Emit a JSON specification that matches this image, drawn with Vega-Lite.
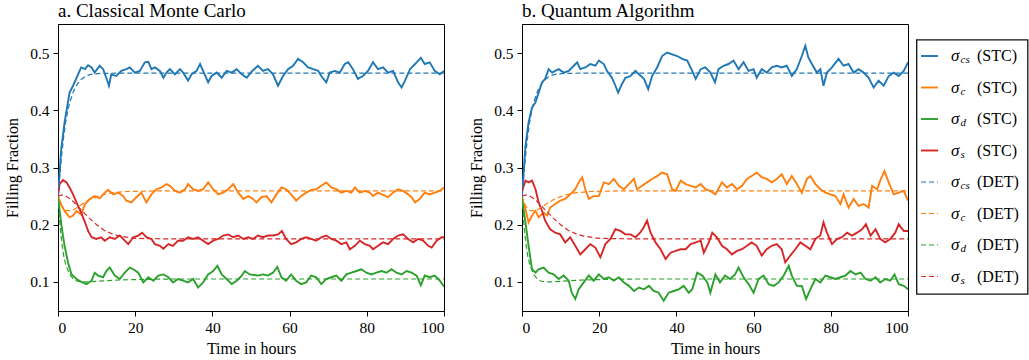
{
"$schema": "https://vega.github.io/schema/vega-lite/v6.json",
"padding": {"left": 4, "top": 1, "right": 1, "bottom": 4},
"config": {
  "font": "Liberation Serif",
  "view": {"stroke": "#000", "strokeWidth": 1},
  "axis": {"domainColor": "#000", "tickColor": "#000", "labelColor": "#000", "titleColor": "#000", "labelFont": "Liberation Serif", "titleFont": "Liberation Serif", "labelFontSize": 15.5, "titleFontSize": 16, "titleFontWeight": "normal", "tickSize": 5, "labelPadding": 4, "grid": false, "domainWidth": 1, "tickWidth": 1},
  "axisY": {"titlePadding": 9},
  "axisX": {"titlePadding": 5},
  "title": {"font": "Liberation Serif", "fontSize": 19, "fontWeight": "normal", "anchor": "start", "frame": "group", "color": "#000", "offset": 3}
},
"datasets": {
"stc": [
{"p":"a","k":"cs","h":0,"v":0.25},{"p":"a","k":"cs","h":0.8,"v":0.33},{"p":"a","k":"cs","h":1.7,"v":0.379},{"p":"a","k":"cs","h":3,"v":0.431},{"p":"a","k":"cs","h":3.9,"v":0.443},{"p":"a","k":"cs","h":5.2,"v":0.463},{"p":"a","k":"cs","h":6,"v":0.475},{"p":"a","k":"cs","h":7,"v":0.472},{"p":"a","k":"cs","h":7.8,"v":0.479},{"p":"a","k":"cs","h":8.7,"v":0.475},{"p":"a","k":"cs","h":9.5,"v":0.466},{"p":"a","k":"cs","h":10.8,"v":0.478},{"p":"a","k":"cs","h":11.7,"v":0.472},{"p":"a","k":"cs","h":12.5,"v":0.457},{"p":"a","k":"cs","h":13.2,"v":0.443},{"p":"a","k":"cs","h":13.8,"v":0.463},{"p":"a","k":"cs","h":15.1,"v":0.46},{"p":"a","k":"cs","h":16.4,"v":0.469},{"p":"a","k":"cs","h":17.7,"v":0.472},{"p":"a","k":"cs","h":18.6,"v":0.475},{"p":"a","k":"cs","h":19.9,"v":0.466},{"p":"a","k":"cs","h":21.2,"v":0.469},{"p":"a","k":"cs","h":22.5,"v":0.484},{"p":"a","k":"cs","h":23.4,"v":0.485},{"p":"a","k":"cs","h":24.2,"v":0.472},{"p":"a","k":"cs","h":25.1,"v":0.475},{"p":"a","k":"cs","h":26.4,"v":0.469},{"p":"a","k":"cs","h":27.3,"v":0.457},{"p":"a","k":"cs","h":28.1,"v":0.466},{"p":"a","k":"cs","h":29,"v":0.472},{"p":"a","k":"cs","h":30.3,"v":0.463},{"p":"a","k":"cs","h":31.6,"v":0.472},{"p":"a","k":"cs","h":32.4,"v":0.466},{"p":"a","k":"cs","h":33.7,"v":0.452},{"p":"a","k":"cs","h":34.6,"v":0.463},{"p":"a","k":"cs","h":35.9,"v":0.469},{"p":"a","k":"cs","h":36.8,"v":0.481},{"p":"a","k":"cs","h":37.6,"v":0.469},{"p":"a","k":"cs","h":38.9,"v":0.449},{"p":"a","k":"cs","h":39.8,"v":0.46},{"p":"a","k":"cs","h":41.1,"v":0.466},{"p":"a","k":"cs","h":42.4,"v":0.457},{"p":"a","k":"cs","h":43.7,"v":0.469},{"p":"a","k":"cs","h":45,"v":0.466},{"p":"a","k":"cs","h":46.3,"v":0.472},{"p":"a","k":"cs","h":47.6,"v":0.463},{"p":"a","k":"cs","h":48.9,"v":0.457},{"p":"a","k":"cs","h":50.2,"v":0.468},{"p":"a","k":"cs","h":51.8,"v":0.478},{"p":"a","k":"cs","h":53.1,"v":0.469},{"p":"a","k":"cs","h":54.4,"v":0.472},{"p":"a","k":"cs","h":55.7,"v":0.463},{"p":"a","k":"cs","h":57,"v":0.443},{"p":"a","k":"cs","h":58.3,"v":0.46},{"p":"a","k":"cs","h":59.6,"v":0.472},{"p":"a","k":"cs","h":60.9,"v":0.478},{"p":"a","k":"cs","h":62.2,"v":0.49},{"p":"a","k":"cs","h":63.5,"v":0.484},{"p":"a","k":"cs","h":64.8,"v":0.475},{"p":"a","k":"cs","h":66.1,"v":0.472},{"p":"a","k":"cs","h":67.4,"v":0.469},{"p":"a","k":"cs","h":68.2,"v":0.46},{"p":"a","k":"cs","h":69.5,"v":0.449},{"p":"a","k":"cs","h":70.4,"v":0.466},{"p":"a","k":"cs","h":71.7,"v":0.469},{"p":"a","k":"cs","h":73,"v":0.466},{"p":"a","k":"cs","h":74.3,"v":0.481},{"p":"a","k":"cs","h":75.2,"v":0.484},{"p":"a","k":"cs","h":76.4,"v":0.472},{"p":"a","k":"cs","h":77.7,"v":0.455},{"p":"a","k":"cs","h":79,"v":0.46},{"p":"a","k":"cs","h":80.3,"v":0.469},{"p":"a","k":"cs","h":81.6,"v":0.484},{"p":"a","k":"cs","h":82.9,"v":0.472},{"p":"a","k":"cs","h":84.2,"v":0.475},{"p":"a","k":"cs","h":85.5,"v":0.466},{"p":"a","k":"cs","h":86.8,"v":0.469},{"p":"a","k":"cs","h":88.1,"v":0.449},{"p":"a","k":"cs","h":89,"v":0.44},{"p":"a","k":"cs","h":89.9,"v":0.452},{"p":"a","k":"cs","h":91.2,"v":0.472},{"p":"a","k":"cs","h":92.5,"v":0.481},{"p":"a","k":"cs","h":94,"v":0.492},{"p":"a","k":"cs","h":95,"v":0.481},{"p":"a","k":"cs","h":96.3,"v":0.484},{"p":"a","k":"cs","h":97.6,"v":0.469},{"p":"a","k":"cs","h":98.9,"v":0.463},{"p":"a","k":"cs","h":100,"v":0.469},
{"p":"a","k":"c","h":0,"v":0.25},{"p":"a","k":"c","h":0.8,"v":0.235},{"p":"a","k":"c","h":1.7,"v":0.224},{"p":"a","k":"c","h":3,"v":0.213},{"p":"a","k":"c","h":3.9,"v":0.216},{"p":"a","k":"c","h":4.8,"v":0.224},{"p":"a","k":"c","h":6,"v":0.218},{"p":"a","k":"c","h":7,"v":0.236},{"p":"a","k":"c","h":8.2,"v":0.245},{"p":"a","k":"c","h":9.5,"v":0.25},{"p":"a","k":"c","h":10.8,"v":0.246},{"p":"a","k":"c","h":12.1,"v":0.256},{"p":"a","k":"c","h":13,"v":0.261},{"p":"a","k":"c","h":14.3,"v":0.253},{"p":"a","k":"c","h":15.6,"v":0.256},{"p":"a","k":"c","h":16.9,"v":0.25},{"p":"a","k":"c","h":17.7,"v":0.242},{"p":"a","k":"c","h":19,"v":0.239},{"p":"a","k":"c","h":20.3,"v":0.248},{"p":"a","k":"c","h":21.6,"v":0.256},{"p":"a","k":"c","h":22.9,"v":0.239},{"p":"a","k":"c","h":24.2,"v":0.253},{"p":"a","k":"c","h":25.5,"v":0.262},{"p":"a","k":"c","h":26.8,"v":0.265},{"p":"a","k":"c","h":28.1,"v":0.271},{"p":"a","k":"c","h":29,"v":0.268},{"p":"a","k":"c","h":30.3,"v":0.259},{"p":"a","k":"c","h":31.6,"v":0.256},{"p":"a","k":"c","h":32.9,"v":0.262},{"p":"a","k":"c","h":33.7,"v":0.271},{"p":"a","k":"c","h":35,"v":0.262},{"p":"a","k":"c","h":36.3,"v":0.259},{"p":"a","k":"c","h":37.6,"v":0.262},{"p":"a","k":"c","h":38.9,"v":0.274},{"p":"a","k":"c","h":40.2,"v":0.262},{"p":"a","k":"c","h":41.5,"v":0.253},{"p":"a","k":"c","h":42.8,"v":0.256},{"p":"a","k":"c","h":44.1,"v":0.262},{"p":"a","k":"c","h":45.4,"v":0.271},{"p":"a","k":"c","h":46.7,"v":0.256},{"p":"a","k":"c","h":48,"v":0.245},{"p":"a","k":"c","h":49.3,"v":0.25},{"p":"a","k":"c","h":50.5,"v":0.245},{"p":"a","k":"c","h":51.4,"v":0.239},{"p":"a","k":"c","h":52.7,"v":0.248},{"p":"a","k":"c","h":54,"v":0.25},{"p":"a","k":"c","h":55.3,"v":0.239},{"p":"a","k":"c","h":56.6,"v":0.253},{"p":"a","k":"c","h":57.9,"v":0.265},{"p":"a","k":"c","h":59.1,"v":0.262},{"p":"a","k":"c","h":60.4,"v":0.253},{"p":"a","k":"c","h":61.7,"v":0.242},{"p":"a","k":"c","h":63,"v":0.25},{"p":"a","k":"c","h":64.3,"v":0.256},{"p":"a","k":"c","h":65.6,"v":0.261},{"p":"a","k":"c","h":66.9,"v":0.262},{"p":"a","k":"c","h":68.2,"v":0.268},{"p":"a","k":"c","h":69.5,"v":0.274},{"p":"a","k":"c","h":70.8,"v":0.265},{"p":"a","k":"c","h":72.1,"v":0.262},{"p":"a","k":"c","h":73.4,"v":0.256},{"p":"a","k":"c","h":74.7,"v":0.259},{"p":"a","k":"c","h":76,"v":0.256},{"p":"a","k":"c","h":76.9,"v":0.265},{"p":"a","k":"c","h":78.2,"v":0.256},{"p":"a","k":"c","h":79.5,"v":0.259},{"p":"a","k":"c","h":80.8,"v":0.256},{"p":"a","k":"c","h":81.6,"v":0.25},{"p":"a","k":"c","h":82.9,"v":0.256},{"p":"a","k":"c","h":84.2,"v":0.252},{"p":"a","k":"c","h":85.5,"v":0.248},{"p":"a","k":"c","h":86.8,"v":0.256},{"p":"a","k":"c","h":88.1,"v":0.262},{"p":"a","k":"c","h":89.4,"v":0.259},{"p":"a","k":"c","h":90.7,"v":0.253},{"p":"a","k":"c","h":91.6,"v":0.248},{"p":"a","k":"c","h":92.5,"v":0.239},{"p":"a","k":"c","h":93.7,"v":0.245},{"p":"a","k":"c","h":95,"v":0.256},{"p":"a","k":"c","h":96.3,"v":0.253},{"p":"a","k":"c","h":97.6,"v":0.256},{"p":"a","k":"c","h":98.9,"v":0.259},{"p":"a","k":"c","h":100,"v":0.265},
{"p":"a","k":"d","h":0,"v":0.25},{"p":"a","k":"d","h":0.9,"v":0.198},{"p":"a","k":"d","h":1.7,"v":0.163},{"p":"a","k":"d","h":2.6,"v":0.134},{"p":"a","k":"d","h":3.5,"v":0.113},{"p":"a","k":"d","h":4.8,"v":0.105},{"p":"a","k":"d","h":6,"v":0.1},{"p":"a","k":"d","h":7.4,"v":0.096},{"p":"a","k":"d","h":8.7,"v":0.102},{"p":"a","k":"d","h":9.5,"v":0.116},{"p":"a","k":"d","h":10.4,"v":0.111},{"p":"a","k":"d","h":11.7,"v":0.108},{"p":"a","k":"d","h":12.5,"v":0.119},{"p":"a","k":"d","h":13.4,"v":0.125},{"p":"a","k":"d","h":14.7,"v":0.111},{"p":"a","k":"d","h":16,"v":0.105},{"p":"a","k":"d","h":17.3,"v":0.116},{"p":"a","k":"d","h":18.6,"v":0.125},{"p":"a","k":"d","h":19.5,"v":0.122},{"p":"a","k":"d","h":20.8,"v":0.116},{"p":"a","k":"d","h":22.1,"v":0.099},{"p":"a","k":"d","h":23.4,"v":0.108},{"p":"a","k":"d","h":24.7,"v":0.102},{"p":"a","k":"d","h":26,"v":0.111},{"p":"a","k":"d","h":27.3,"v":0.113},{"p":"a","k":"d","h":28.6,"v":0.108},{"p":"a","k":"d","h":29.8,"v":0.099},{"p":"a","k":"d","h":31.1,"v":0.105},{"p":"a","k":"d","h":32.4,"v":0.102},{"p":"a","k":"d","h":33.7,"v":0.099},{"p":"a","k":"d","h":35,"v":0.105},{"p":"a","k":"d","h":36.3,"v":0.09},{"p":"a","k":"d","h":37.6,"v":0.099},{"p":"a","k":"d","h":38.9,"v":0.113},{"p":"a","k":"d","h":40.2,"v":0.119},{"p":"a","k":"d","h":41.3,"v":0.128},{"p":"a","k":"d","h":42.4,"v":0.113},{"p":"a","k":"d","h":43.7,"v":0.105},{"p":"a","k":"d","h":45,"v":0.096},{"p":"a","k":"d","h":46.3,"v":0.102},{"p":"a","k":"d","h":47.6,"v":0.111},{"p":"a","k":"d","h":48.4,"v":0.119},{"p":"a","k":"d","h":49.7,"v":0.113},{"p":"a","k":"d","h":51.8,"v":0.111},{"p":"a","k":"d","h":53.1,"v":0.113},{"p":"a","k":"d","h":54.4,"v":0.111},{"p":"a","k":"d","h":55.7,"v":0.116},{"p":"a","k":"d","h":56.8,"v":0.126},{"p":"a","k":"d","h":57.9,"v":0.108},{"p":"a","k":"d","h":59.1,"v":0.102},{"p":"a","k":"d","h":60.4,"v":0.113},{"p":"a","k":"d","h":61.7,"v":0.102},{"p":"a","k":"d","h":63,"v":0.096},{"p":"a","k":"d","h":64.3,"v":0.099},{"p":"a","k":"d","h":65.6,"v":0.111},{"p":"a","k":"d","h":66.9,"v":0.108},{"p":"a","k":"d","h":68.2,"v":0.096},{"p":"a","k":"d","h":69.5,"v":0.105},{"p":"a","k":"d","h":70.8,"v":0.108},{"p":"a","k":"d","h":72.1,"v":0.111},{"p":"a","k":"d","h":73.4,"v":0.102},{"p":"a","k":"d","h":74.7,"v":0.113},{"p":"a","k":"d","h":76,"v":0.116},{"p":"a","k":"d","h":77.3,"v":0.119},{"p":"a","k":"d","h":78.6,"v":0.122},{"p":"a","k":"d","h":79.9,"v":0.116},{"p":"a","k":"d","h":81.2,"v":0.113},{"p":"a","k":"d","h":82.5,"v":0.116},{"p":"a","k":"d","h":83.8,"v":0.119},{"p":"a","k":"d","h":85.1,"v":0.116},{"p":"a","k":"d","h":86.4,"v":0.122},{"p":"a","k":"d","h":87.7,"v":0.116},{"p":"a","k":"d","h":89,"v":0.113},{"p":"a","k":"d","h":90.3,"v":0.119},{"p":"a","k":"d","h":91.6,"v":0.116},{"p":"a","k":"d","h":92.9,"v":0.111},{"p":"a","k":"d","h":94,"v":0.094},{"p":"a","k":"d","h":95,"v":0.111},{"p":"a","k":"d","h":96.3,"v":0.108},{"p":"a","k":"d","h":97.6,"v":0.111},{"p":"a","k":"d","h":98.9,"v":0.102},{"p":"a","k":"d","h":100,"v":0.092},
{"p":"a","k":"s","h":0,"v":0.25},{"p":"a","k":"s","h":0.4,"v":0.271},{"p":"a","k":"s","h":1.3,"v":0.278},{"p":"a","k":"s","h":2.2,"v":0.274},{"p":"a","k":"s","h":3,"v":0.265},{"p":"a","k":"s","h":3.9,"v":0.253},{"p":"a","k":"s","h":5.2,"v":0.233},{"p":"a","k":"s","h":6,"v":0.221},{"p":"a","k":"s","h":7,"v":0.204},{"p":"a","k":"s","h":7.8,"v":0.189},{"p":"a","k":"s","h":8.7,"v":0.178},{"p":"a","k":"s","h":9.9,"v":0.175},{"p":"a","k":"s","h":11.2,"v":0.178},{"p":"a","k":"s","h":12.1,"v":0.172},{"p":"a","k":"s","h":13.4,"v":0.178},{"p":"a","k":"s","h":14.7,"v":0.175},{"p":"a","k":"s","h":16,"v":0.181},{"p":"a","k":"s","h":17.3,"v":0.172},{"p":"a","k":"s","h":18.2,"v":0.166},{"p":"a","k":"s","h":19.5,"v":0.178},{"p":"a","k":"s","h":20.8,"v":0.181},{"p":"a","k":"s","h":21.8,"v":0.186},{"p":"a","k":"s","h":22.9,"v":0.178},{"p":"a","k":"s","h":24.2,"v":0.175},{"p":"a","k":"s","h":25.1,"v":0.166},{"p":"a","k":"s","h":26.4,"v":0.163},{"p":"a","k":"s","h":27.3,"v":0.158},{"p":"a","k":"s","h":28.6,"v":0.166},{"p":"a","k":"s","h":29.8,"v":0.163},{"p":"a","k":"s","h":31.1,"v":0.172},{"p":"a","k":"s","h":32.4,"v":0.172},{"p":"a","k":"s","h":33.7,"v":0.178},{"p":"a","k":"s","h":35,"v":0.175},{"p":"a","k":"s","h":36.3,"v":0.178},{"p":"a","k":"s","h":37.6,"v":0.172},{"p":"a","k":"s","h":38.9,"v":0.166},{"p":"a","k":"s","h":40.2,"v":0.172},{"p":"a","k":"s","h":41.5,"v":0.175},{"p":"a","k":"s","h":42.8,"v":0.181},{"p":"a","k":"s","h":44.1,"v":0.183},{"p":"a","k":"s","h":45.4,"v":0.178},{"p":"a","k":"s","h":46.7,"v":0.181},{"p":"a","k":"s","h":48,"v":0.175},{"p":"a","k":"s","h":49.3,"v":0.178},{"p":"a","k":"s","h":50.5,"v":0.175},{"p":"a","k":"s","h":51.8,"v":0.181},{"p":"a","k":"s","h":53.1,"v":0.178},{"p":"a","k":"s","h":54.4,"v":0.181},{"p":"a","k":"s","h":55.7,"v":0.181},{"p":"a","k":"s","h":57,"v":0.183},{"p":"a","k":"s","h":58,"v":0.189},{"p":"a","k":"s","h":59.1,"v":0.175},{"p":"a","k":"s","h":60.4,"v":0.166},{"p":"a","k":"s","h":61.7,"v":0.169},{"p":"a","k":"s","h":63,"v":0.175},{"p":"a","k":"s","h":64.3,"v":0.178},{"p":"a","k":"s","h":65.6,"v":0.175},{"p":"a","k":"s","h":66.9,"v":0.172},{"p":"a","k":"s","h":68.2,"v":0.178},{"p":"a","k":"s","h":69.5,"v":0.181},{"p":"a","k":"s","h":70.8,"v":0.175},{"p":"a","k":"s","h":72.1,"v":0.172},{"p":"a","k":"s","h":73.4,"v":0.166},{"p":"a","k":"s","h":74.7,"v":0.169},{"p":"a","k":"s","h":75.6,"v":0.157},{"p":"a","k":"s","h":76.9,"v":0.163},{"p":"a","k":"s","h":78.2,"v":0.172},{"p":"a","k":"s","h":79.5,"v":0.166},{"p":"a","k":"s","h":80.8,"v":0.163},{"p":"a","k":"s","h":81.6,"v":0.157},{"p":"a","k":"s","h":82.9,"v":0.163},{"p":"a","k":"s","h":84.2,"v":0.169},{"p":"a","k":"s","h":85.5,"v":0.166},{"p":"a","k":"s","h":86.8,"v":0.175},{"p":"a","k":"s","h":88.1,"v":0.181},{"p":"a","k":"s","h":89.4,"v":0.183},{"p":"a","k":"s","h":90.7,"v":0.175},{"p":"a","k":"s","h":92,"v":0.169},{"p":"a","k":"s","h":93.3,"v":0.175},{"p":"a","k":"s","h":94.6,"v":0.172},{"p":"a","k":"s","h":95.9,"v":0.163},{"p":"a","k":"s","h":96.8,"v":0.16},{"p":"a","k":"s","h":98.1,"v":0.172},{"p":"a","k":"s","h":99.4,"v":0.178},{"p":"a","k":"s","h":100,"v":0.178},
{"p":"b","k":"cs","h":0,"v":0.25},{"p":"b","k":"cs","h":0.9,"v":0.338},{"p":"b","k":"cs","h":1.7,"v":0.379},{"p":"b","k":"cs","h":2.6,"v":0.405},{"p":"b","k":"cs","h":3.5,"v":0.414},{"p":"b","k":"cs","h":4.3,"v":0.431},{"p":"b","k":"cs","h":5.2,"v":0.449},{"p":"b","k":"cs","h":6,"v":0.455},{"p":"b","k":"cs","h":6.9,"v":0.472},{"p":"b","k":"cs","h":7.8,"v":0.466},{"p":"b","k":"cs","h":8.6,"v":0.469},{"p":"b","k":"cs","h":9.5,"v":0.472},{"p":"b","k":"cs","h":10.8,"v":0.466},{"p":"b","k":"cs","h":12.1,"v":0.469},{"p":"b","k":"cs","h":13.4,"v":0.478},{"p":"b","k":"cs","h":14.3,"v":0.484},{"p":"b","k":"cs","h":15.1,"v":0.472},{"p":"b","k":"cs","h":16.4,"v":0.475},{"p":"b","k":"cs","h":17.7,"v":0.481},{"p":"b","k":"cs","h":19,"v":0.478},{"p":"b","k":"cs","h":19.9,"v":0.487},{"p":"b","k":"cs","h":21.2,"v":0.481},{"p":"b","k":"cs","h":22,"v":0.469},{"p":"b","k":"cs","h":23.3,"v":0.457},{"p":"b","k":"cs","h":24.2,"v":0.443},{"p":"b","k":"cs","h":24.9,"v":0.431},{"p":"b","k":"cs","h":25.9,"v":0.446},{"p":"b","k":"cs","h":26.8,"v":0.457},{"p":"b","k":"cs","h":28.1,"v":0.46},{"p":"b","k":"cs","h":29.4,"v":0.469},{"p":"b","k":"cs","h":30.3,"v":0.463},{"p":"b","k":"cs","h":31.6,"v":0.455},{"p":"b","k":"cs","h":32.7,"v":0.437},{"p":"b","k":"cs","h":33.7,"v":0.46},{"p":"b","k":"cs","h":35,"v":0.475},{"p":"b","k":"cs","h":36.3,"v":0.495},{"p":"b","k":"cs","h":37.6,"v":0.501},{"p":"b","k":"cs","h":38.9,"v":0.498},{"p":"b","k":"cs","h":40.2,"v":0.495},{"p":"b","k":"cs","h":41.5,"v":0.49},{"p":"b","k":"cs","h":42.8,"v":0.487},{"p":"b","k":"cs","h":44.1,"v":0.469},{"p":"b","k":"cs","h":45,"v":0.455},{"p":"b","k":"cs","h":46.3,"v":0.472},{"p":"b","k":"cs","h":47.5,"v":0.475},{"p":"b","k":"cs","h":48.8,"v":0.466},{"p":"b","k":"cs","h":50,"v":0.449},{"p":"b","k":"cs","h":50.9,"v":0.472},{"p":"b","k":"cs","h":52.2,"v":0.478},{"p":"b","k":"cs","h":53.5,"v":0.481},{"p":"b","k":"cs","h":54.8,"v":0.487},{"p":"b","k":"cs","h":56.1,"v":0.472},{"p":"b","k":"cs","h":57.4,"v":0.484},{"p":"b","k":"cs","h":58.7,"v":0.469},{"p":"b","k":"cs","h":60,"v":0.472},{"p":"b","k":"cs","h":60.8,"v":0.457},{"p":"b","k":"cs","h":62.1,"v":0.472},{"p":"b","k":"cs","h":63.4,"v":0.466},{"p":"b","k":"cs","h":64.7,"v":0.475},{"p":"b","k":"cs","h":66,"v":0.478},{"p":"b","k":"cs","h":67.3,"v":0.475},{"p":"b","k":"cs","h":68.6,"v":0.478},{"p":"b","k":"cs","h":69.9,"v":0.46},{"p":"b","k":"cs","h":71.2,"v":0.472},{"p":"b","k":"cs","h":72.5,"v":0.495},{"p":"b","k":"cs","h":73.4,"v":0.513},{"p":"b","k":"cs","h":74.2,"v":0.492},{"p":"b","k":"cs","h":75.1,"v":0.481},{"p":"b","k":"cs","h":76.4,"v":0.466},{"p":"b","k":"cs","h":77.3,"v":0.472},{"p":"b","k":"cs","h":78.1,"v":0.443},{"p":"b","k":"cs","h":79,"v":0.466},{"p":"b","k":"cs","h":80.3,"v":0.475},{"p":"b","k":"cs","h":82,"v":0.49},{"p":"b","k":"cs","h":83.3,"v":0.478},{"p":"b","k":"cs","h":84.6,"v":0.481},{"p":"b","k":"cs","h":85.9,"v":0.466},{"p":"b","k":"cs","h":87.2,"v":0.472},{"p":"b","k":"cs","h":88.5,"v":0.466},{"p":"b","k":"cs","h":89.8,"v":0.457},{"p":"b","k":"cs","h":91.1,"v":0.44},{"p":"b","k":"cs","h":92.4,"v":0.452},{"p":"b","k":"cs","h":93.7,"v":0.443},{"p":"b","k":"cs","h":95,"v":0.46},{"p":"b","k":"cs","h":96.3,"v":0.466},{"p":"b","k":"cs","h":97.6,"v":0.46},{"p":"b","k":"cs","h":98.9,"v":0.469},{"p":"b","k":"cs","h":100,"v":0.484},
{"p":"b","k":"c","h":0,"v":0.245},{"p":"b","k":"c","h":0.9,"v":0.227},{"p":"b","k":"c","h":1.7,"v":0.204},{"p":"b","k":"c","h":2.6,"v":0.216},{"p":"b","k":"c","h":3.5,"v":0.224},{"p":"b","k":"c","h":4.3,"v":0.213},{"p":"b","k":"c","h":5.6,"v":0.221},{"p":"b","k":"c","h":6.5,"v":0.216},{"p":"b","k":"c","h":7.3,"v":0.23},{"p":"b","k":"c","h":8.6,"v":0.236},{"p":"b","k":"c","h":9.9,"v":0.242},{"p":"b","k":"c","h":11.2,"v":0.245},{"p":"b","k":"c","h":12.5,"v":0.253},{"p":"b","k":"c","h":13.8,"v":0.262},{"p":"b","k":"c","h":14.7,"v":0.274},{"p":"b","k":"c","h":15.6,"v":0.283},{"p":"b","k":"c","h":16.4,"v":0.262},{"p":"b","k":"c","h":17.3,"v":0.245},{"p":"b","k":"c","h":18.6,"v":0.25},{"p":"b","k":"c","h":19.9,"v":0.25},{"p":"b","k":"c","h":21.2,"v":0.274},{"p":"b","k":"c","h":22.5,"v":0.271},{"p":"b","k":"c","h":23.8,"v":0.28},{"p":"b","k":"c","h":25.1,"v":0.268},{"p":"b","k":"c","h":26.4,"v":0.262},{"p":"b","k":"c","h":27.7,"v":0.271},{"p":"b","k":"c","h":29,"v":0.28},{"p":"b","k":"c","h":29.8,"v":0.262},{"p":"b","k":"c","h":31.1,"v":0.268},{"p":"b","k":"c","h":32.4,"v":0.274},{"p":"b","k":"c","h":33.7,"v":0.28},{"p":"b","k":"c","h":35,"v":0.285},{"p":"b","k":"c","h":36.3,"v":0.291},{"p":"b","k":"c","h":37.6,"v":0.288},{"p":"b","k":"c","h":38.9,"v":0.262},{"p":"b","k":"c","h":39.8,"v":0.259},{"p":"b","k":"c","h":41.1,"v":0.277},{"p":"b","k":"c","h":42.4,"v":0.271},{"p":"b","k":"c","h":43.7,"v":0.268},{"p":"b","k":"c","h":45,"v":0.265},{"p":"b","k":"c","h":46.3,"v":0.271},{"p":"b","k":"c","h":47.5,"v":0.262},{"p":"b","k":"c","h":48.8,"v":0.259},{"p":"b","k":"c","h":50.1,"v":0.253},{"p":"b","k":"c","h":51.8,"v":0.274},{"p":"b","k":"c","h":53.1,"v":0.265},{"p":"b","k":"c","h":54.4,"v":0.271},{"p":"b","k":"c","h":55.7,"v":0.262},{"p":"b","k":"c","h":57,"v":0.268},{"p":"b","k":"c","h":58.3,"v":0.28},{"p":"b","k":"c","h":59.5,"v":0.285},{"p":"b","k":"c","h":60.8,"v":0.291},{"p":"b","k":"c","h":62.1,"v":0.283},{"p":"b","k":"c","h":63.4,"v":0.28},{"p":"b","k":"c","h":64.7,"v":0.274},{"p":"b","k":"c","h":66,"v":0.28},{"p":"b","k":"c","h":67.3,"v":0.288},{"p":"b","k":"c","h":68.6,"v":0.271},{"p":"b","k":"c","h":69.9,"v":0.285},{"p":"b","k":"c","h":71.2,"v":0.271},{"p":"b","k":"c","h":72.5,"v":0.256},{"p":"b","k":"c","h":73.8,"v":0.28},{"p":"b","k":"c","h":74.7,"v":0.285},{"p":"b","k":"c","h":76,"v":0.271},{"p":"b","k":"c","h":77.3,"v":0.262},{"p":"b","k":"c","h":78.6,"v":0.256},{"p":"b","k":"c","h":79.9,"v":0.253},{"p":"b","k":"c","h":81.2,"v":0.25},{"p":"b","k":"c","h":82.5,"v":0.236},{"p":"b","k":"c","h":83.3,"v":0.253},{"p":"b","k":"c","h":84.6,"v":0.23},{"p":"b","k":"c","h":85.9,"v":0.245},{"p":"b","k":"c","h":87.2,"v":0.233},{"p":"b","k":"c","h":88.5,"v":0.236},{"p":"b","k":"c","h":89.8,"v":0.23},{"p":"b","k":"c","h":90.7,"v":0.268},{"p":"b","k":"c","h":92,"v":0.262},{"p":"b","k":"c","h":92.8,"v":0.277},{"p":"b","k":"c","h":93.9,"v":0.294},{"p":"b","k":"c","h":95,"v":0.274},{"p":"b","k":"c","h":96.3,"v":0.253},{"p":"b","k":"c","h":97.6,"v":0.256},{"p":"b","k":"c","h":98.9,"v":0.259},{"p":"b","k":"c","h":100,"v":0.242},
{"p":"b","k":"d","h":0,"v":0.245},{"p":"b","k":"d","h":0.9,"v":0.204},{"p":"b","k":"d","h":1.7,"v":0.163},{"p":"b","k":"d","h":2.6,"v":0.122},{"p":"b","k":"d","h":3.5,"v":0.116},{"p":"b","k":"d","h":4.3,"v":0.122},{"p":"b","k":"d","h":5.6,"v":0.125},{"p":"b","k":"d","h":6.9,"v":0.116},{"p":"b","k":"d","h":8.2,"v":0.113},{"p":"b","k":"d","h":9.5,"v":0.105},{"p":"b","k":"d","h":10.8,"v":0.111},{"p":"b","k":"d","h":12.1,"v":0.102},{"p":"b","k":"d","h":12.9,"v":0.081},{"p":"b","k":"d","h":13.8,"v":0.07},{"p":"b","k":"d","h":14.7,"v":0.087},{"p":"b","k":"d","h":16,"v":0.099},{"p":"b","k":"d","h":17.3,"v":0.111},{"p":"b","k":"d","h":18.6,"v":0.102},{"p":"b","k":"d","h":19.9,"v":0.113},{"p":"b","k":"d","h":21.2,"v":0.105},{"p":"b","k":"d","h":22.5,"v":0.108},{"p":"b","k":"d","h":23.8,"v":0.102},{"p":"b","k":"d","h":25.1,"v":0.108},{"p":"b","k":"d","h":26.4,"v":0.099},{"p":"b","k":"d","h":27.7,"v":0.093},{"p":"b","k":"d","h":29,"v":0.084},{"p":"b","k":"d","h":30.3,"v":0.09},{"p":"b","k":"d","h":31.6,"v":0.087},{"p":"b","k":"d","h":32.9,"v":0.093},{"p":"b","k":"d","h":34.1,"v":0.084},{"p":"b","k":"d","h":35.4,"v":0.081},{"p":"b","k":"d","h":36.7,"v":0.067},{"p":"b","k":"d","h":38,"v":0.081},{"p":"b","k":"d","h":39.3,"v":0.084},{"p":"b","k":"d","h":40.6,"v":0.087},{"p":"b","k":"d","h":41.9,"v":0.093},{"p":"b","k":"d","h":43.2,"v":0.081},{"p":"b","k":"d","h":44.1,"v":0.087},{"p":"b","k":"d","h":45.4,"v":0.116},{"p":"b","k":"d","h":46.7,"v":0.111},{"p":"b","k":"d","h":48,"v":0.099},{"p":"b","k":"d","h":48.8,"v":0.081},{"p":"b","k":"d","h":50.1,"v":0.113},{"p":"b","k":"d","h":51.3,"v":0.099},{"p":"b","k":"d","h":52.6,"v":0.111},{"p":"b","k":"d","h":53.9,"v":0.105},{"p":"b","k":"d","h":55.2,"v":0.113},{"p":"b","k":"d","h":56.1,"v":0.125},{"p":"b","k":"d","h":57.4,"v":0.108},{"p":"b","k":"d","h":58.7,"v":0.096},{"p":"b","k":"d","h":60,"v":0.081},{"p":"b","k":"d","h":61.3,"v":0.105},{"p":"b","k":"d","h":62.6,"v":0.111},{"p":"b","k":"d","h":63.9,"v":0.096},{"p":"b","k":"d","h":65.2,"v":0.093},{"p":"b","k":"d","h":66.5,"v":0.099},{"p":"b","k":"d","h":67.8,"v":0.111},{"p":"b","k":"d","h":69.1,"v":0.128},{"p":"b","k":"d","h":69.9,"v":0.111},{"p":"b","k":"d","h":71.2,"v":0.093},{"p":"b","k":"d","h":72.5,"v":0.093},{"p":"b","k":"d","h":73.6,"v":0.07},{"p":"b","k":"d","h":74.7,"v":0.087},{"p":"b","k":"d","h":76,"v":0.105},{"p":"b","k":"d","h":77.3,"v":0.099},{"p":"b","k":"d","h":78.6,"v":0.111},{"p":"b","k":"d","h":79.9,"v":0.108},{"p":"b","k":"d","h":81.2,"v":0.105},{"p":"b","k":"d","h":82.5,"v":0.108},{"p":"b","k":"d","h":83.8,"v":0.111},{"p":"b","k":"d","h":85.1,"v":0.119},{"p":"b","k":"d","h":86.4,"v":0.113},{"p":"b","k":"d","h":87.7,"v":0.116},{"p":"b","k":"d","h":89,"v":0.105},{"p":"b","k":"d","h":90.3,"v":0.102},{"p":"b","k":"d","h":91.6,"v":0.108},{"p":"b","k":"d","h":92.8,"v":0.099},{"p":"b","k":"d","h":94.1,"v":0.105},{"p":"b","k":"d","h":95.4,"v":0.102},{"p":"b","k":"d","h":96.5,"v":0.113},{"p":"b","k":"d","h":97.6,"v":0.096},{"p":"b","k":"d","h":98.9,"v":0.093},{"p":"b","k":"d","h":100,"v":0.087},
{"p":"b","k":"s","h":0,"v":0.259},{"p":"b","k":"s","h":0.9,"v":0.277},{"p":"b","k":"s","h":1.7,"v":0.274},{"p":"b","k":"s","h":2.6,"v":0.277},{"p":"b","k":"s","h":3.5,"v":0.262},{"p":"b","k":"s","h":4.3,"v":0.239},{"p":"b","k":"s","h":5.2,"v":0.224},{"p":"b","k":"s","h":6,"v":0.207},{"p":"b","k":"s","h":7.3,"v":0.192},{"p":"b","k":"s","h":8.6,"v":0.186},{"p":"b","k":"s","h":9.9,"v":0.183},{"p":"b","k":"s","h":11.2,"v":0.169},{"p":"b","k":"s","h":12.5,"v":0.178},{"p":"b","k":"s","h":13.8,"v":0.163},{"p":"b","k":"s","h":15.1,"v":0.148},{"p":"b","k":"s","h":16.4,"v":0.157},{"p":"b","k":"s","h":17.7,"v":0.166},{"p":"b","k":"s","h":19,"v":0.16},{"p":"b","k":"s","h":20.3,"v":0.143},{"p":"b","k":"s","h":21.6,"v":0.166},{"p":"b","k":"s","h":22.9,"v":0.175},{"p":"b","k":"s","h":24.2,"v":0.192},{"p":"b","k":"s","h":25.5,"v":0.189},{"p":"b","k":"s","h":26.8,"v":0.183},{"p":"b","k":"s","h":28.1,"v":0.183},{"p":"b","k":"s","h":29.4,"v":0.178},{"p":"b","k":"s","h":30.6,"v":0.186},{"p":"b","k":"s","h":31.5,"v":0.195},{"p":"b","k":"s","h":32.4,"v":0.207},{"p":"b","k":"s","h":33.3,"v":0.186},{"p":"b","k":"s","h":34.6,"v":0.169},{"p":"b","k":"s","h":35.9,"v":0.157},{"p":"b","k":"s","h":37.2,"v":0.14},{"p":"b","k":"s","h":38.5,"v":0.151},{"p":"b","k":"s","h":39.8,"v":0.154},{"p":"b","k":"s","h":41.1,"v":0.157},{"p":"b","k":"s","h":42.4,"v":0.157},{"p":"b","k":"s","h":43.7,"v":0.166},{"p":"b","k":"s","h":45,"v":0.169},{"p":"b","k":"s","h":46.3,"v":0.172},{"p":"b","k":"s","h":47.1,"v":0.151},{"p":"b","k":"s","h":48.4,"v":0.169},{"p":"b","k":"s","h":49.3,"v":0.186},{"p":"b","k":"s","h":50.5,"v":0.178},{"p":"b","k":"s","h":51.8,"v":0.163},{"p":"b","k":"s","h":53.1,"v":0.157},{"p":"b","k":"s","h":54.4,"v":0.148},{"p":"b","k":"s","h":55.7,"v":0.154},{"p":"b","k":"s","h":57,"v":0.157},{"p":"b","k":"s","h":58.3,"v":0.163},{"p":"b","k":"s","h":59.5,"v":0.169},{"p":"b","k":"s","h":60.8,"v":0.163},{"p":"b","k":"s","h":62.1,"v":0.146},{"p":"b","k":"s","h":63.4,"v":0.157},{"p":"b","k":"s","h":64.7,"v":0.163},{"p":"b","k":"s","h":66,"v":0.166},{"p":"b","k":"s","h":67.3,"v":0.157},{"p":"b","k":"s","h":68.2,"v":0.134},{"p":"b","k":"s","h":69.5,"v":0.146},{"p":"b","k":"s","h":70.8,"v":0.157},{"p":"b","k":"s","h":72.1,"v":0.169},{"p":"b","k":"s","h":73.4,"v":0.163},{"p":"b","k":"s","h":74.7,"v":0.157},{"p":"b","k":"s","h":76,"v":0.175},{"p":"b","k":"s","h":77.3,"v":0.181},{"p":"b","k":"s","h":78.1,"v":0.204},{"p":"b","k":"s","h":79,"v":0.186},{"p":"b","k":"s","h":80.3,"v":0.166},{"p":"b","k":"s","h":81.6,"v":0.175},{"p":"b","k":"s","h":82.9,"v":0.178},{"p":"b","k":"s","h":84.2,"v":0.186},{"p":"b","k":"s","h":85.5,"v":0.181},{"p":"b","k":"s","h":86.8,"v":0.186},{"p":"b","k":"s","h":88.1,"v":0.192},{"p":"b","k":"s","h":89.1,"v":0.201},{"p":"b","k":"s","h":90.3,"v":0.181},{"p":"b","k":"s","h":91.6,"v":0.192},{"p":"b","k":"s","h":92.8,"v":0.175},{"p":"b","k":"s","h":94.1,"v":0.169},{"p":"b","k":"s","h":95.4,"v":0.175},{"p":"b","k":"s","h":96.7,"v":0.186},{"p":"b","k":"s","h":97.6,"v":0.201},{"p":"b","k":"s","h":98.9,"v":0.189},{"p":"b","k":"s","h":100,"v":0.189}
],
"det": [
{"k":"cs","h":0,"v":0.25},{"k":"cs","h":0.5,"v":0.29},{"k":"cs","h":1,"v":0.325},{"k":"cs","h":1.5,"v":0.355},{"k":"cs","h":2,"v":0.38},{"k":"cs","h":2.5,"v":0.398},{"k":"cs","h":3,"v":0.413},{"k":"cs","h":4,"v":0.433},{"k":"cs","h":5,"v":0.446},{"k":"cs","h":6,"v":0.454},{"k":"cs","h":7,"v":0.459},{"k":"cs","h":8,"v":0.462},{"k":"cs","h":9,"v":0.4635},{"k":"cs","h":11,"v":0.4645},{"k":"cs","h":15,"v":0.465},{"k":"cs","h":100,"v":0.465},
{"k":"c","h":0,"v":0.25},{"k":"c","h":1,"v":0.232},{"k":"c","h":2,"v":0.225},{"k":"c","h":3,"v":0.224},{"k":"c","h":4,"v":0.226},{"k":"c","h":5,"v":0.23},{"k":"c","h":6,"v":0.235},{"k":"c","h":8,"v":0.243},{"k":"c","h":10,"v":0.249},{"k":"c","h":12,"v":0.253},{"k":"c","h":14,"v":0.256},{"k":"c","h":18,"v":0.258},{"k":"c","h":25,"v":0.259},{"k":"c","h":100,"v":0.259},
{"k":"d","h":0,"v":0.25},{"k":"d","h":0.5,"v":0.2},{"k":"d","h":1,"v":0.168},{"k":"d","h":1.5,"v":0.145},{"k":"d","h":2,"v":0.13},{"k":"d","h":3,"v":0.113},{"k":"d","h":4,"v":0.105},{"k":"d","h":5,"v":0.101},{"k":"d","h":6,"v":0.1},{"k":"d","h":8,"v":0.1},{"k":"d","h":10,"v":0.101},{"k":"d","h":15,"v":0.103},{"k":"d","h":20,"v":0.104},{"k":"d","h":30,"v":0.105},{"k":"d","h":100,"v":0.105},
{"k":"s","h":0,"v":0.25},{"k":"s","h":1,"v":0.252},{"k":"s","h":2,"v":0.25},{"k":"s","h":3,"v":0.246},{"k":"s","h":4,"v":0.24},{"k":"s","h":5,"v":0.233},{"k":"s","h":6,"v":0.226},{"k":"s","h":7,"v":0.219},{"k":"s","h":8,"v":0.212},{"k":"s","h":9,"v":0.206},{"k":"s","h":10,"v":0.2},{"k":"s","h":12,"v":0.19},{"k":"s","h":14,"v":0.184},{"k":"s","h":16,"v":0.18},{"k":"s","h":20,"v":0.176},{"k":"s","h":30,"v":0.175},{"k":"s","h":100,"v":0.175}
],
"leg": [
{"i":1,"k":"cs","t":"STC","sub":"cs","lab":"(STC)"},
{"i":2,"k":"c","t":"STC","sub":"c","lab":"(STC)"},
{"i":3,"k":"d","t":"STC","sub":"d","lab":"(STC)"},
{"i":4,"k":"s","t":"STC","sub":"s","lab":"(STC)"},
{"i":5,"k":"cs","t":"DET","sub":"cs","lab":"(DET)"},
{"i":6,"k":"c","t":"DET","sub":"c","lab":"(DET)"},
{"i":7,"k":"d","t":"DET","sub":"d","lab":"(DET)"},
{"i":8,"k":"s","t":"DET","sub":"s","lab":"(DET)"}
]
},
"hconcat": [
  {
    "title": {"text": "a. Classical Monte Carlo"},
    "width": 386, "height": 287,
    "encoding": {
      "x": {"field": "h", "type": "quantitative", "scale": {"domain": [0, 100], "nice": false}, "axis": {"title": "Time in hours", "values": [0, 20, 40, 60, 80, 100]}},
      "y": {"field": "v", "type": "quantitative", "scale": {"domain": [0.049, 0.551], "nice": false, "zero": false}, "axis": {"title": "Filling Fraction", "values": [0.1, 0.2, 0.3, 0.4, 0.5], "format": ".1f"}},
      "color": {"field": "k", "type": "nominal", "scale": {"domain": ["cs", "c", "d", "s"], "range": ["#1f77b4", "#ff7f0e", "#2ca02c", "#d62728"]}, "legend": null}
    },
    "layer": [
      {"data": {"name": "stc"}, "transform": [{"filter": "datum.p === 'a'"}], "mark": {"type": "line", "strokeWidth": 1.9, "clip": true}, "encoding": {}},
      {"data": {"name": "det"}, "mark": {"type": "line", "strokeWidth": 1.2, "strokeDash": [5, 3], "clip": true}, "encoding": {}}
    ]
  },
  {
    "title": {"text": "b. Quantum Algorithm"},
    "width": 386, "height": 287,
    "layer": [
      {
        "encoding": {
          "x": {"field": "h", "type": "quantitative", "scale": {"domain": [0, 100], "nice": false}, "axis": {"title": "Time in hours", "values": [0, 20, 40, 60, 80, 100]}},
          "y": {"field": "v", "type": "quantitative", "scale": {"domain": [0.049, 0.551], "nice": false, "zero": false}, "axis": {"title": "Filling Fraction", "values": [0.1, 0.2, 0.3, 0.4, 0.5], "format": ".1f"}},
          "color": {"field": "k", "type": "nominal", "scale": {"domain": ["cs", "c", "d", "s"], "range": ["#1f77b4", "#ff7f0e", "#2ca02c", "#d62728"]}, "legend": null}
        },
        "layer": [
          {"data": {"name": "stc"}, "transform": [{"filter": "datum.p === 'b'"}], "mark": {"type": "line", "strokeWidth": 1.9, "clip": true}, "encoding": {}},
          {"data": {"name": "det"}, "mark": {"type": "line", "strokeWidth": 1.2, "strokeDash": [5, 3], "clip": true}, "encoding": {}}
        ]
      },
      {
        "layer": [
          {"data": {"values": [{"box": "legend"}]}, "mark": {"type": "rect", "fill": "#fff", "stroke": "#111", "strokeWidth": 1.3},
           "encoding": {
             "x": {"datum": 0.7, "type": "quantitative", "scale": {"domain": [-394, -8], "nice": false, "zero": false}, "axis": null},
             "x2": {"datum": 111.8},
             "y": {"datum": 0.49, "type": "quantitative", "scale": {"domain": [-0.016, 9.095], "nice": false, "zero": false, "reverse": true}, "axis": null},
             "y2": {"datum": 8.56}
           }},
          {"data": {"name": "leg"}, "transform": [{"filter": "datum.t === 'STC'"}], "mark": {"type": "rule", "strokeWidth": 1.9},
           "encoding": {
             "x": {"datum": 5, "type": "quantitative", "axis": null}, "x2": {"datum": 22},
             "y": {"field": "i", "type": "quantitative", "axis": null},
             "color": {"field": "k", "type": "nominal", "legend": null}
           }},
          {"data": {"name": "leg"}, "transform": [{"filter": "datum.t === 'DET'"}], "mark": {"type": "rule", "strokeWidth": 1.2, "strokeDash": [5, 3]},
           "encoding": {
             "x": {"datum": 5, "type": "quantitative", "axis": null}, "x2": {"datum": 22},
             "y": {"field": "i", "type": "quantitative", "axis": null},
             "color": {"field": "k", "type": "nominal", "legend": null}
           }},
          {"data": {"name": "leg"}, "mark": {"type": "text", "align": "left", "baseline": "middle", "fontSize": 17, "fontStyle": "italic", "font": "Liberation Serif", "color": "#000"},
           "encoding": {
             "x": {"datum": 35, "type": "quantitative", "axis": null},
             "y": {"field": "i", "type": "quantitative", "axis": null},
             "text": {"value": "σ"}
           }},
          {"data": {"name": "leg"}, "mark": {"type": "text", "align": "left", "baseline": "middle", "fontSize": 11, "fontStyle": "italic", "font": "Liberation Serif", "color": "#000", "dy": 4},
           "encoding": {
             "x": {"datum": 44.5, "type": "quantitative", "axis": null},
             "y": {"field": "i", "type": "quantitative", "axis": null},
             "text": {"field": "sub"}
           }},
          {"data": {"name": "leg"}, "mark": {"type": "text", "align": "left", "baseline": "middle", "fontSize": 16, "font": "Liberation Serif", "color": "#000"},
           "encoding": {
             "x": {"datum": 61, "type": "quantitative", "axis": null},
             "y": {"field": "i", "type": "quantitative", "axis": null},
             "text": {"field": "lab"}
           }}
        ]
      }
    ],
    "resolve": {"scale": {"x": "independent", "y": "independent"}}
  }
],
"spacing": 78,
"bounds": "flush"
}
